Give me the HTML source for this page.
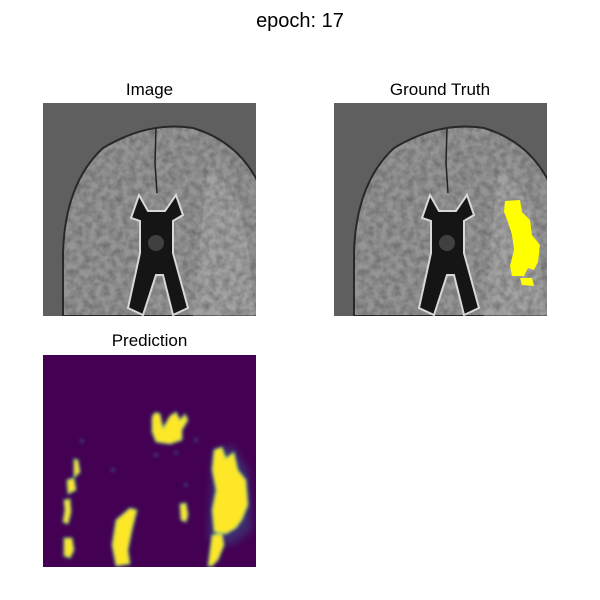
<!DOCTYPE html>
<html><head><meta charset="utf-8"><style>
body{margin:0;background:#fff;}
svg{display:block;font-family:"Liberation Sans","DejaVu Sans",sans-serif;}
</style></head><body>
<svg width="600" height="600" viewBox="0 0 600 600">
<defs>
 <filter id="blur1"><feGaussianBlur stdDeviation="1.6"/></filter>
 <filter id="blur3"><feGaussianBlur stdDeviation="4"/></filter>
 <filter id="noise" x="0" y="0" width="100%" height="100%">
  <feTurbulence type="fractalNoise" baseFrequency="0.15" numOctaves="2" seed="3"/>
  <feColorMatrix type="matrix" values="0 0 0 0 0  0 0 0 0 0  0 0 0 0 0  0 0 0 -1.6 1.1"/>
 </filter>
 <clipPath id="c1"><rect x="0" y="0" width="213" height="213"/></clipPath>
 <clipPath id="cb"><path d="M20 213 L20 150 Q22 80 60 45 Q105 18 150 25 Q200 40 220 90 L220 213 Z"/></clipPath>
 <g id="brain" clip-path="url(#c1)">
  <rect x="0" y="0" width="213" height="213" fill="#5f5f5f"/>
  <path d="M20 213 L20 150 Q22 80 60 45 Q105 18 150 25 Q200 40 220 90 L220 213 Z" fill="#959595" stroke="#2a2a2a" stroke-width="2"/>
  <g clip-path="url(#cb)">
   <path d="M165 60 Q205 95 208 180 L213 213 L150 213 Z" fill="#b0b0b0" opacity="0.5"/>
   <rect x="0" y="0" width="213" height="213" filter="url(#noise)" opacity="0.28"/>
  </g>
  <path d="M96 92 L88 115 L97 118 L97 150 L85 205 L100 212 L113 172 L120 172 L130 212 L145 205 L130 150 L130 118 L140 112 L133 92 L122 108 L105 108 Z" fill="#151515" stroke="#d8d8d8" stroke-width="2"/>
  <circle cx="113" cy="140" r="8" fill="#404040"/>
  <path d="M113 25 L112 60 L114 90" stroke="#222" stroke-width="1.5" fill="none"/>
 </g>
</defs>
<text x="300" y="27" text-anchor="middle" font-size="20" fill="#000">epoch: 17</text>

<g>
 <text x="149.5" y="95" text-anchor="middle" font-size="17">Image</text>
 <use href="#brain" x="43" y="103"/>
</g>

<g>
 <text x="440" y="95" text-anchor="middle" font-size="17">Ground Truth</text>
 <use href="#brain" x="334" y="103"/>
 <path d="M505 201 L520 200 L522 212 L530 220 L532 235 L540 245 L538 262 L534 270 L528 268 L524 276 L512 276 L510 266 L514 250 L512 235 L508 222 L504 212 Z M520 278 L532 278 L534 286 L522 285 Z" fill="#ffff00"/>
</g>

<g>
 <text x="149.5" y="346" text-anchor="middle" font-size="17">Prediction</text>
 <svg x="43" y="355" width="213" height="212" viewBox="43 355 213 212">
 <rect x="43" y="355" width="213" height="212" fill="#440154"/>
 <g fill="#3b528b" opacity="0.5" filter="url(#blur3)">
   <path d="M214 450 L232 446 L248 470 L252 530 L232 545 L208 538 Z"/>
 </g>
 <g filter="url(#blur1)">
  <g fill="#fde725" stroke="#35b779" stroke-width="1.2">
   <path d="M152 418 Q154 410 160 414 L163 428 L170 416 L176 412 L180 420 L185 414 L188 420 L182 430 L182 440 L170 444 L156 442 L152 432 Z"/>
   <path d="M214 450 L222 447 L226 458 L234 452 L238 470 L246 480 L248 505 L242 520 L236 528 L226 534 L214 532 L212 510 L216 490 L212 470 Z"/>
   <path d="M74 459 L78 460 L80 472 L74 478 Z"/>
   <path d="M67 480 L74 478 L76 490 L68 494 Z"/>
   <path d="M64 500 L70 499 L71 512 L68 524 L63 522 L65 510 Z"/>
   <path d="M64 538 L72 538 L74 550 L70 558 L64 556 Z"/>
   <path d="M116 520 L122 515 L130 508 L137 510 L132 530 L128 550 L130 564 L116 566 L112 545 Z"/>
   <path d="M180 504 L186 503 L188 515 L186 522 L181 520 Z"/>
   <path d="M212 535 L222 533 L224 545 L218 560 L212 566 L208 566 Z"/>
  </g>
  <g fill="#3b528b" opacity="0.7">
   <circle cx="82" cy="441" r="2"/><circle cx="156" cy="455" r="2"/><circle cx="176" cy="453" r="2"/>
   <circle cx="196" cy="440" r="2"/><circle cx="113" cy="470" r="2"/><circle cx="186" cy="485" r="2"/>
  </g>
 </g>
 </svg>
</g>
</svg>
</body></html>
